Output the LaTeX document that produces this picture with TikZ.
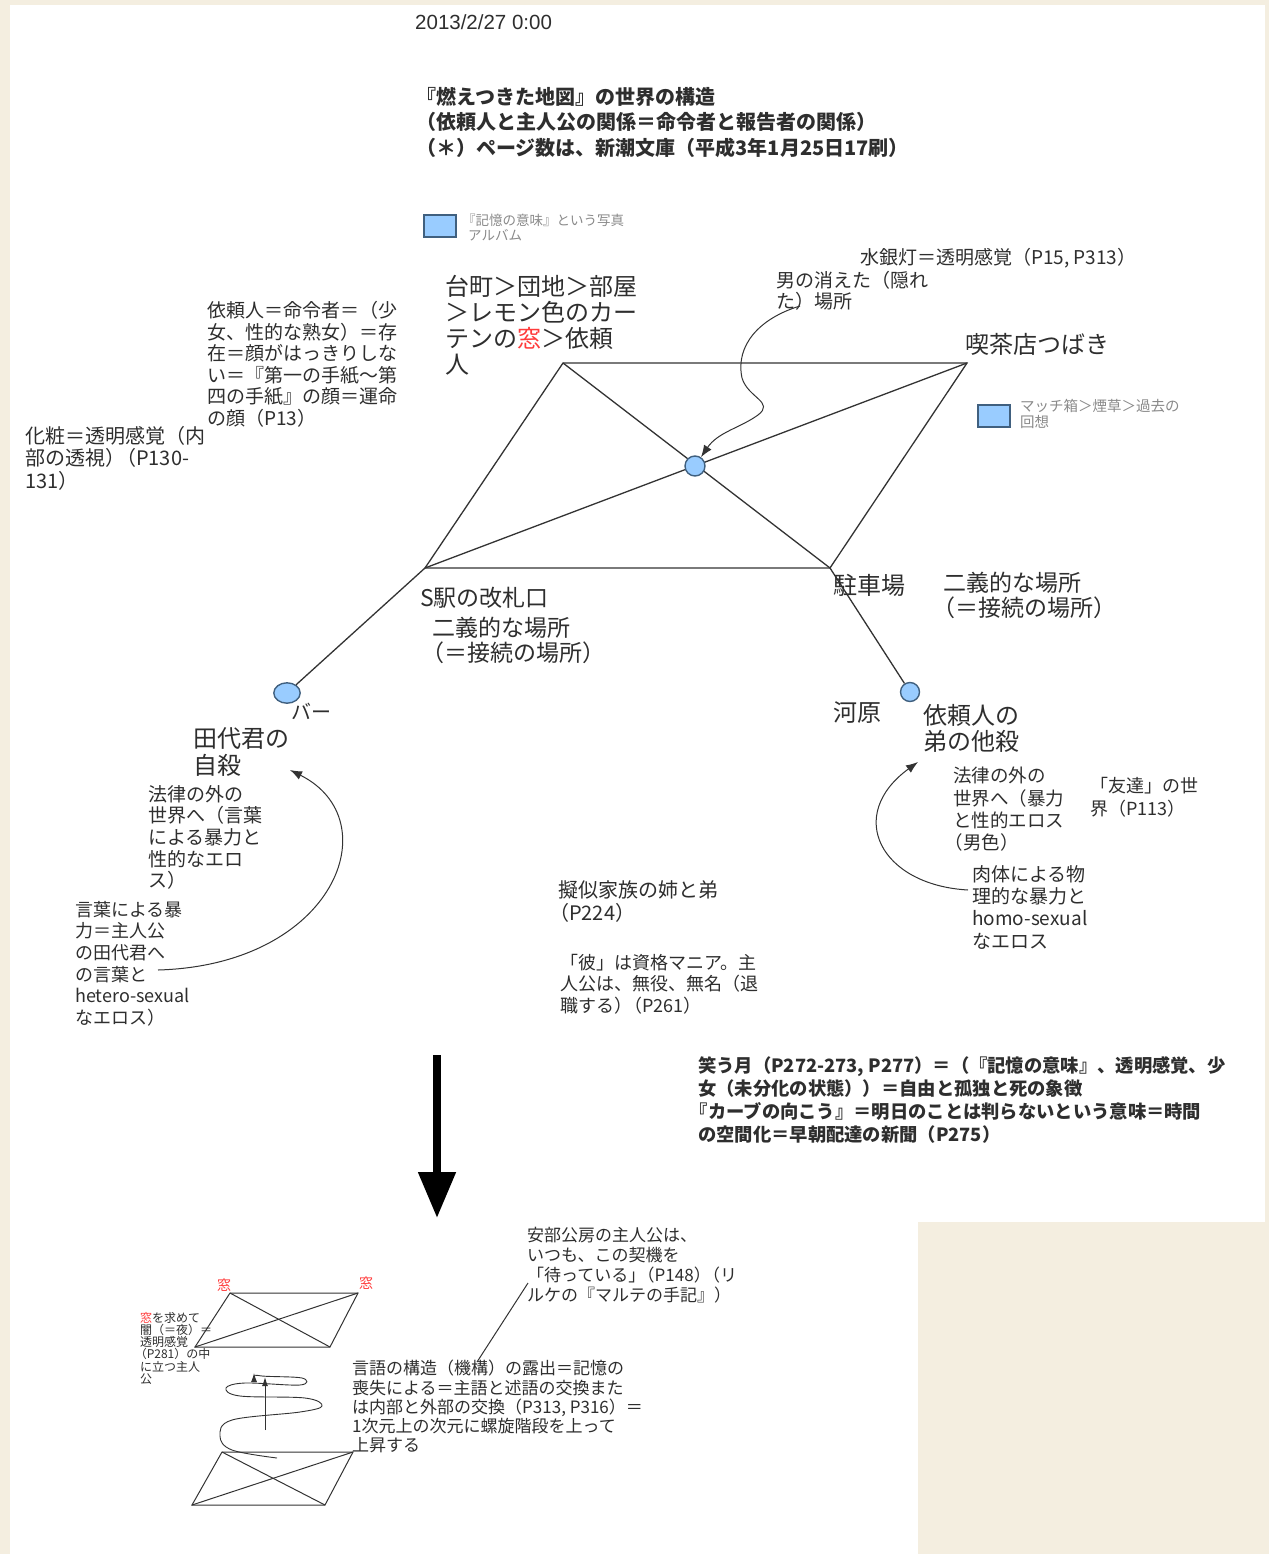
\documentclass[tikz,border=0pt]{standalone}
\usepackage{fontspec}
\setmainfont{Liberation Sans}
\newfontfamily\cjk{Noto Sans CJK JP}
\usetikzlibrary{arrows.meta}
\definecolor{bg}{HTML}{F4EEE0}
\definecolor{txt}{HTML}{2E2E2E}
\definecolor{lbl}{HTML}{8A8A8A}
\definecolor{cfill}{HTML}{99CCFF}
\definecolor{cdraw}{HTML}{40607F}
\definecolor{redw}{HTML}{FF3B3B}
\definecolor{ln}{HTML}{333333}
\newcommand{\lk}{\kern-0.45em}
\begin{document}
\begin{tikzpicture}[x=1pt,y=-1pt,
  tx/.style={anchor=north west,inner sep=0pt,align=left,text=txt},
  fs/.style 2 args={font=\cjk\fontsize{#1}{#2}\selectfont},
  edge/.style={draw=ln,line width=1.3pt},
  thin/.style={draw=ln,line width=1pt},
  tip/.style={-{Latex[length=12pt,width=9pt]}},
  dotnode/.style={draw=cdraw,fill=cfill,line width=1.4pt,circle,inner sep=0pt},
  photo/.style={draw=cdraw,fill=cfill,line width=1.4pt}]
\useasboundingbox (0,0) rectangle (1269,1554);
% background
\fill[bg] (0,0) rectangle (1269,1554);
\fill[white] (10,5) rectangle (1265,1554);
\fill[bg] (918,1222) rectangle (1269,1554);

% header
\node[anchor=west,inner sep=0pt,text=txt,font=\fontsize{20.5}{22}\selectfont] (date) at (415,22) {2013/2/27 0:00};
\node[tx,font=\cjk\bfseries\fontsize{20}{25.5}\selectfont] (title) at (425,87)
  {\lk『燃えつきた地図』の世界の構造\\\lk（依頼人と主人公の関係＝命令者と報告者の関係）\\\lk（＊）ページ数は、新潮文庫（平成3年1月25日17刷）};

% photo markers
\draw[photo] (424,215) rectangle (456,237);
\node[tx,text=lbl,fs={13.5}{15}] (album) at (468,214) {\lk『記憶の意味』という写真\\アルバム};
\draw[photo] (978,405) rectangle (1010,427);
\node[tx,text=lbl,fs={14.5}{16}] (match) at (1020,399) {マッチ箱＞煙草＞過去の\\回想};

% main diagram vertices
\coordinate (A) at (563,363);
\coordinate (B) at (967,363);
\coordinate (C) at (425,568);
\coordinate (D) at (830,568);
\draw[edge] (A) -- (B) -- (D) -- (C) -- cycle;
\draw[edge] (A) -- (D);
\draw[edge] (C) -- (B);
\node[dotnode,minimum size=20pt] (mid) at (695,466) {};
\node[dotnode,minimum size=24pt,xscale=1.1,yscale=0.85] (bar) at (287,693) {};
\node[dotnode,minimum size=19pt] (river) at (910,692) {};
\draw[edge] (C) -- (bar);
\draw[edge] (D) -- (river);

% labels of main diagram
\node[tx,fs={24}{26}] (room) at (445,275) {台町＞団地＞部屋\\＞レモン色のカー\\テンの{\color{redw}窓}＞依頼\\人};
\node[anchor=west,inner sep=0pt,text=txt,fs={19}{21}] (lamp) at (860,258) {水銀灯＝透明感覚（P15, P313）};
\node[tx,fs={19}{21}] (hidden) at (776,271) {男の消えた（隠れ\\た）場所};
\node[anchor=west,inner sep=0pt,text=txt,fs={24}{26}] (cafe) at (965,344) {喫茶店つばき};
\node[tx,fs={19}{21.6}] (client) at (207,301) {依頼人＝命令者＝（少\\女、性的な熟女）＝存\\在＝顔がはっきりしな\\い＝『第一の手紙〜第\\四の手紙』の顔＝運命\\の顔（P13）};
\node[tx,fs={20}{22.5}] (makeup) at (25,426) {化粧＝透明感覚（内\\部の透視）\lk（P130-\\131）};
\node[anchor=west,inner sep=0pt,text=txt,fs={23}{25}] (station) at (420,598) {S駅の改札口};
\node[tx,fs={23}{25}] (sec1) at (432,617) {二義的な場所\\\lk（＝接続の場所）};
\node[anchor=west,inner sep=0pt,text=txt,fs={24}{26}] (park) at (833,585) {駐車場};
\node[tx,fs={23}{25}] (sec2) at (943,572) {二義的な場所\\\lk（＝接続の場所）};
\node[anchor=west,inner sep=0pt,text=txt,fs={20}{22}] (barlbl) at (291,711) {バー};
\node[tx,fs={24}{27}] (tashiro) at (193,727) {田代君の\\自殺};
\node[tx,fs={19}{21.7}] (law1) at (148,785) {法律の外の\\世界へ（言葉\\による暴力と\\性的なエロ\\ス）};
\node[tx,fs={18}{21.6}] (words) at (75,901) {言葉による暴\\力＝主人公\\の田代君へ\\の言葉と\\hetero-sexual\\なエロス）};
\node[anchor=west,inner sep=0pt,text=txt,fs={24}{26}] (kawara) at (833,713) {河原};
\node[tx,fs={24}{26}] (brother) at (923,704) {依頼人の\\弟の他殺};
\node[tx,fs={18.5}{22.3}] (law2) at (953,767) {法律の外の\\世界へ（暴力\\と性的エロス\\\lk（男色）};
\node[tx,fs={18}{23}] (friend) at (1090,777) {「友達」の世\\界（P113）};
\node[tx,fs={19}{22.3}] (body) at (972,865) {肉体による物\\理的な暴力と\\homo-sexual\\なエロス};
\node[tx,fs={20}{23}] (family) at (558,880) {擬似家族の姉と弟\\\lk（P224）};
\node[tx,fs={18}{21.5}] (he) at (560,954) {「彼」は資格マニア。主\\人公は、無役、無名（退\\職する）\lk（P261）};
\node[tx,font=\cjk\bfseries\fontsize{18.3}{23.3}\selectfont] (moon) at (698,1056)
  {笑う月（P272-273, P277）＝（『記憶の意味』、透明感覚、少\\女（未分化の状態））＝自由と孤独と死の象徴\\\lk『カーブの向こう』＝明日のことは判らないという意味＝時間\\の空間化＝早朝配達の新聞（P275）};

% arrows in main diagram
\coordinate (h0) at (800,306);
\draw[thin,tip] (h0) .. controls (760,318) and (735,345) .. (742,378)
  .. controls (748,398) and (775,402) .. (758,415)
  .. controls (740,428) and (718,432) .. (mid);
\coordinate (w0) at (158,970);
\coordinate (w1) at (290,770);
\draw[thin,tip] (w0) .. controls (335,965) and (390,820) .. (w1);
\coordinate (b0) at (968,890);
\coordinate (b1) at (918,762);
\draw[thin,tip] (b0) .. controls (880,885) and (845,815) .. (b1);

% big arrow
\coordinate (g0) at (437,1055);
\coordinate (g1) at (437,1218);
\draw[line width=8pt,black,-{Triangle[length=46pt,width=36pt]}] (g0) -- (g1);

% lower-left small diagram
\coordinate (p1) at (230,1293);
\coordinate (p2) at (358,1293);
\coordinate (p3) at (330,1347);
\coordinate (p4) at (195,1347);
\draw[thin] (p1) -- (p2) -- (p3) -- (p4) -- cycle;
\draw[thin] (p1) -- (p3);
\draw[thin] (p4) -- (p2);
\node[text=redw,inner sep=0pt,fs={14}{15}] (w1l) at (224,1285) {窓};
\node[text=redw,inner sep=0pt,fs={14}{15}] (w2l) at (366,1283) {窓};
\coordinate (q1) at (222,1452);
\coordinate (q2) at (353,1452);
\coordinate (q3) at (325,1505);
\coordinate (q4) at (192,1505);
\draw[thin] (q1) -- (q2) -- (q3) -- (q4) -- cycle;
\draw[thin] (q1) -- (q3);
\draw[thin] (q4) -- (q2);
\coordinate (u0) at (265,1430);
\coordinate (u1) at (265,1377);
\draw[thin,-{Latex[length=9pt,width=6pt]}] (u0) -- (u1);
\draw[line width=0.9pt,draw=ln,-{Latex[length=9pt,width=6pt]}] plot[smooth,tension=0.6] coordinates
  {(277,1458) (232,1450) (220,1436) (232,1420) (300,1412) (322,1406) (305,1398) (240,1396) (226,1388) (245,1383) (300,1385) (302,1378) (262,1376) (254,1373)};
\node[tx,fs={12}{12.2}] (seek) at (140,1312) {{\color{redw}窓}を求めて\\闇（＝夜）＝\\透明感覚\\\lk（P281）の中\\に立つ主人\\公};
\node[tx,fs={17}{19.3}] (lang) at (352,1360) {言語の構造（機構）の露出＝記憶の\\喪失による＝主語と述語の交換また\\は内部と外部の交換（P313, P316）＝\\1次元上の次元に螺旋階段を上って\\上昇する};
\node[tx,fs={17}{20}] (abe) at (527,1227) {安部公房の主人公は、\\いつも、この契機を\\「待っている」\lk（P148）\lk（リ\\ルケの『マルテの手記』）};
\coordinate (l0) at (477,1362);
\coordinate (l1) at (528,1283);
\draw[thin] (l0) -- (l1);
\end{tikzpicture}
\end{document}
